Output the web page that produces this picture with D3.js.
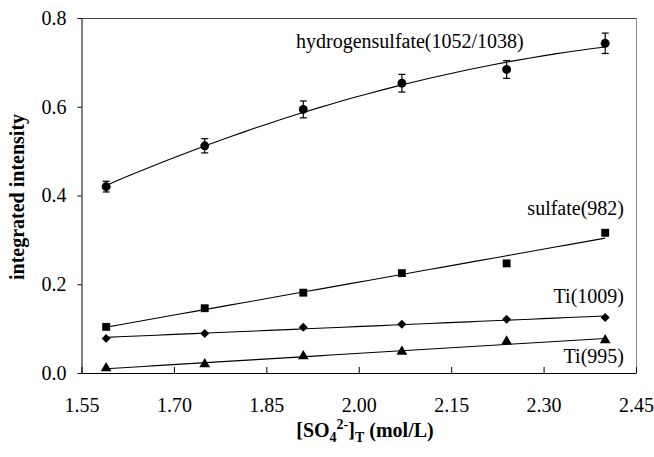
<!DOCTYPE html>
<html>
<head>
<meta charset="utf-8">
<script src="https://cdn.jsdelivr.net/npm/d3@7"></script>
<style>
  body { margin: 0; background: #fff; }
  text { font-family: "Liberation Serif", "Times New Roman", serif; }
</style>
</head>
<body>
<div id="vis"></div>
<script>
var w = 654, h = 457;
var plotLeft = 81, plotTop = 18, plotRight = 636, plotBottom = 373;

// concentrations of total sulfate (mol/L)
var conc = [1.59, 1.75, 1.91, 2.07, 2.24, 2.40];

// integrated intensities
var hydrogensulfate = [0.420, 0.512, 0.594, 0.653, 0.684, 0.743];
var hydrogensulfateErr = [0.012, 0.016, 0.019, 0.020, 0.020, 0.023];
var sulfate = [0.104, 0.146, 0.181, 0.225, 0.247, 0.316];
var ti1009 = [0.078, 0.089, 0.103, 0.110, 0.121, 0.125];
var ti995 = [0.011, 0.020, 0.038, 0.048, 0.071, 0.074];

var xTicks = [1.55, 1.70, 1.85, 2.00, 2.15, 2.30, 2.45];
var yTicks = [0.0, 0.2, 0.4, 0.6, 0.8];

var x = d3.scaleLinear().domain([1.55, 2.45]).range([plotLeft + 0.5, plotRight]);
var y = d3.scaleLinear().domain([0, 0.8]).range([plotBottom, plotTop]);

var svg = d3.select("#vis").append("svg")
    .attr("width", w)
    .attr("height", h);

//least squares polynomial fit (degree 1 or 2)
function polyfit(xs, ys, deg) {
  var n = deg + 1, A = [], b = [];
  for (var i = 0; i < n; i++) {
    A.push([]);
    for (var j = 0; j < n; j++) A[i].push(d3.sum(xs, function(v){ return Math.pow(v, i + j); }));
    b.push(d3.sum(xs, function(v, k){ return Math.pow(v, i) * ys[k]; }));
  }
  // gaussian elimination
  for (var c = 0; c < n; c++) {
    for (var r = c + 1; r < n; r++) {
      var f = A[r][c] / A[c][c];
      for (var k = c; k < n; k++) A[r][k] -= f * A[c][k];
      b[r] -= f * b[c];
    }
  }
  var coef = new Array(n);
  for (var r2 = n - 1; r2 >= 0; r2--) {
    var s = b[r2];
    for (var k2 = r2 + 1; k2 < n; k2++) s -= A[r2][k2] * coef[k2];
    coef[r2] = s / A[r2][r2];
  }
  return function(v){
    return coef.reduce(function(acc, cf, p){ return acc + cf * Math.pow(v, p); }, 0);
  };
}

var series = [
  {name: "hydrogensulfate", values: hydrogensulfate, deg: 2, symbol: d3.symbolCircle, size: 62, rot: 0},
  {name: "sulfate", values: sulfate, deg: 1, symbol: d3.symbolSquare, size: 62, rot: 0},
  {name: "ti1009", values: ti1009, deg: 1, symbol: d3.symbolSquare, size: 40, rot: 45},
  {name: "ti995", values: ti995, deg: 1, symbol: d3.symbolTriangle, size: 50, rot: 0}
];

//frame (top and right edges of the plot area)
svg.append("line")
    .attr("x1", plotLeft).attr("x2", plotRight + 0.5)
    .attr("y1", plotTop + 0.5).attr("y2", plotTop + 0.5)
    .attr("stroke", "#444");
svg.append("line")
    .attr("x1", plotRight + 0.5).attr("x2", plotRight + 0.5)
    .attr("y1", plotTop).attr("y2", plotBottom)
    .attr("stroke", "#888");

//axes
var xAxis = svg.append("g")
    .attr("transform", "translate(0," + plotBottom + ")")
    .call(d3.axisBottom(x).tickValues(xTicks).tickFormat(d3.format(".2f"))
      .tickSize(-6).tickSizeOuter(0).tickPadding(25));
var yAxis = svg.append("g")
    .attr("transform", "translate(" + (plotLeft + 0.5) + ",0)")
    .call(d3.axisLeft(y).tickValues(yTicks).tickFormat(d3.format(".1f"))
      .tickSize(4).tickSizeOuter(0).tickPadding(11));

[xAxis, yAxis].forEach(function(g){
  g.selectAll("text").attr("font-size", 20).attr("font-family", "Liberation Serif").attr("fill", "#000");
  g.selectAll("line, path").attr("stroke", "#000");
});

//fitted curves
series.forEach(function(s){
  var fit = polyfit(conc, s.values, s.deg);
  var xs = d3.range(0, 41).map(function(i){ return conc[0] + (conc[conc.length - 1] - conc[0]) * i / 40; });
  svg.append("path")
      .datum(xs)
      .attr("fill", "none")
      .attr("stroke", "#000")
      .attr("stroke-width", 1.1)
      .attr("d", d3.line().x(function(d){ return x(d); }).y(function(d){ return y(fit(d)); }));
});

//error bars for hydrogensulfate
var eb = svg.append("g").attr("stroke", "#000").attr("stroke-width", 1.2);
conc.forEach(function(c, i){
  var v = hydrogensulfate[i], e = hydrogensulfateErr[i];
  eb.append("line").attr("x1", x(c)).attr("x2", x(c)).attr("y1", y(v - e)).attr("y2", y(v + e));
  eb.append("line").attr("x1", x(c) - 3.5).attr("x2", x(c) + 3.5).attr("y1", y(v - e)).attr("y2", y(v - e));
  eb.append("line").attr("x1", x(c) - 3.5).attr("x2", x(c) + 3.5).attr("y1", y(v + e)).attr("y2", y(v + e));
});

//markers
series.forEach(function(s){
  svg.append("g").selectAll("path")
      .data(s.values)
      .enter()
      .append("path")
      .attr("transform", function(d, i){ return "translate(" + x(conc[i]) + "," + y(d) + ") rotate(" + s.rot + ")"; })
      .attr("d", d3.symbol().type(s.symbol).size(s.size))
      .attr("fill", "#000");
});

//series labels
var labels = [
  {text: "hydrogensulfate(1052/1038)", x: 296, y: 48, anchor: "start"},
  {text: "sulfate(982)", x: 624, y: 215, anchor: "end"},
  {text: "Ti(1009)", x: 624, y: 303, anchor: "end"},
  {text: "Ti(995)", x: 624, y: 363, anchor: "end"}
];
svg.selectAll(".lbl")
    .data(labels)
    .enter()
    .append("text")
    .attr("class", "lbl")
    .attr("x", function(d){ return d.x; })
    .attr("y", function(d){ return d.y; })
    .attr("text-anchor", function(d){ return d.anchor; })
    .attr("font-size", 20)
    .text(function(d){ return d.text; });

//axis titles
svg.append("text")
    .attr("transform", "translate(24,197) rotate(-90)")
    .attr("text-anchor", "middle")
    .attr("font-size", 20)
    .attr("font-weight", "bold")
    .text("integrated intensity");

var xt = svg.append("text")
    .attr("x", 365)
    .attr("y", 437)
    .attr("text-anchor", "middle")
    .attr("font-size", 20)
    .attr("font-weight", "bold");
xt.append("tspan").text("[SO");
xt.append("tspan").attr("font-size", 14).attr("dy", 5).text("4");
xt.append("tspan").attr("font-size", 14).attr("dy", -13).text("2-");
xt.append("tspan").attr("dy", 8).text("]");
xt.append("tspan").attr("font-size", 14).attr("dy", 5).text("T");
xt.append("tspan").attr("dy", -5).text(" (mol/L)");
</script>
</body>
</html>
